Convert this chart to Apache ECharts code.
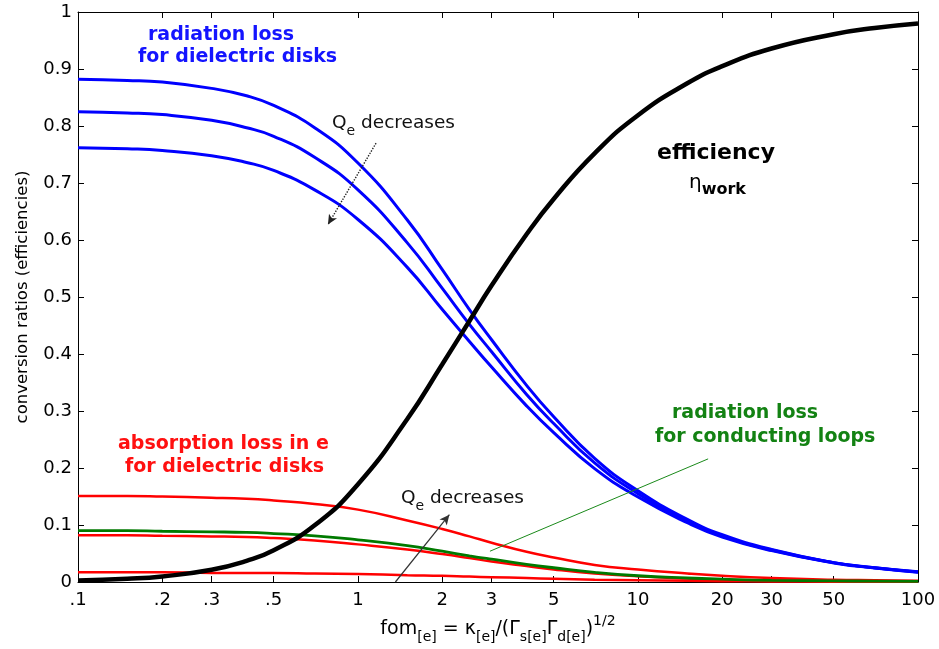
<!DOCTYPE html>
<html><head><meta charset="utf-8">
<script src="https://cdn.jsdelivr.net/npm/echarts@6/dist/echarts.min.js"></script>
<style>html,body{margin:0;padding:0;background:#fff}#c{width:939px;height:649px}</style>
</head><body><div id="c"></div>
<script>
// ---- data ----
const fom = [0.1,0.15,0.2,0.3,0.4,0.5,0.7,1,1.5,2,2.5,3,4,5,7,10,15,20,30,50,70,100];
const efficiency = [0.0025,0.0056,0.0098,0.0215,0.0371,0.0557,0.0994,0.1716,0.286,0.382,0.458,0.520,0.610,0.672,0.752,0.819,0.875,0.905,0.936,0.961,0.972,0.980];
const radDisk1 = [0.882,0.880,0.877,0.866,0.853,0.836,0.797,0.735,0.635,0.548,0.478,0.425,0.345,0.290,0.217,0.160,0.110,0.083,0.057,0.034,0.025,0.018];
const radDisk2 = [0.825,0.823,0.820,0.810,0.797,0.782,0.745,0.688,0.595,0.515,0.452,0.404,0.329,0.278,0.209,0.155,0.107,0.081,0.056,0.034,0.025,0.0175];
const radDisk3 = [0.762,0.760,0.757,0.748,0.736,0.722,0.688,0.636,0.552,0.478,0.422,0.377,0.309,0.262,0.199,0.149,0.104,0.079,0.055,0.0335,0.0245,0.0172];
const absDisk1 = [0.151,0.151,0.150,0.148,0.146,0.143,0.137,0.127,0.108,0.093,0.080,0.069,0.053,0.043,0.030,0.022,0.015,0.011,0.007,0.004,0.003,0.002];
const absDisk2 = [0.082,0.082,0.081,0.080,0.079,0.077,0.073,0.066,0.057,0.049,0.042,0.036,0.028,0.022,0.015,0.010,0.006,0.004,0.003,0.002,0.0015,0.001];
const absDisk3 = [0.017,0.017,0.017,0.016,0.016,0.016,0.015,0.014,0.012,0.011,0.0095,0.0085,0.007,0.0057,0.004,0.003,0.002,0.0015,0.001,0.0006,0.0004,0.0003];
const radLoop = [0.090,0.090,0.089,0.088,0.087,0.085,0.081,0.074,0.064,0.054,0.046,0.040,0.031,0.025,0.017,0.011,0.007,0.005,0.003,0.002,0.0015,0.001];
const xTickValues = [0.1,0.2,0.3,0.5,1,2,3,5,10,20,30,50,100];
const xTickLabels = ['.1','.2','.3','.5','1','2','3','5','10','20','30','50','100'];

const F = '"DejaVu Sans", sans-serif';
const pairs = arr => fom.map((f, i) => [f, arr[i]]);
const xFmt = v => { const i = xTickValues.findIndex(t => Math.abs(t - v) / t < 1e-6); return i >= 0 ? xTickLabels[i] : ''; };

function line(name, arr, color, width, extra) {
  return Object.assign({
    name, type: 'line', data: pairs(arr), showSymbol: false, smooth: 0.5,
    silent: true, lineStyle: { color, width }, itemStyle: { color }
  }, extra || {});
}

const chart = echarts.init(document.getElementById('c'), null, { renderer: 'canvas' });
const xCommon = {
  type: 'log', logBase: 10, min: 0.1, max: 100,
  axisLine: { show: true, onZero: false, lineStyle: { color: '#000', width: 1 } },
  axisTick: { show: true, inside: true, length: 6, customValues: xTickValues, lineStyle: { color: '#000', width: 1 } },
  minorTick: { show: false }, splitLine: { show: false }
};
const yCommon = {
  type: 'value', min: 0, max: 1, interval: 0.1,
  axisLine: { show: true, onZero: false, lineStyle: { color: '#000', width: 1 } },
  axisTick: { show: true, inside: true, length: 6, lineStyle: { color: '#000', width: 1 } },
  splitLine: { show: false }
};

const option = {
  animation: false,
  backgroundColor: '#fff',
  grid: { left: 78, right: 21, top: 12, bottom: 67, containLabel: false },
  xAxis: [
    Object.assign({}, xCommon, {
      position: 'bottom',
      axisLabel: { customValues: xTickValues, formatter: xFmt, color: '#000', fontFamily: F, fontSize: 18, margin: 9 },
      name: '{m|fom}{s|[e]}{m| = κ}{s|[e]}{m|/(Γ}{s|s[e]}{m|Γ}{s|d[e]}{m|)}{p|1/2}',
      nameLocation: 'middle', nameGap: 30,
      nameTextStyle: {
        color: '#000', fontFamily: F,
        rich: {
          m: { fontSize: 19, fontFamily: F, color: '#000', lineHeight: 30, verticalAlign: 'middle' },
          s: { fontSize: 14, fontFamily: F, color: '#000', lineHeight: 14, verticalAlign: 'bottom' },
          p: { fontSize: 14, fontFamily: F, color: '#000', lineHeight: 14, verticalAlign: 'top' }
        }
      }
    }),
    Object.assign({}, xCommon, { position: 'top', axisLabel: { show: false } })
  ],
  yAxis: [
    Object.assign({}, yCommon, {
      position: 'left',
      axisLabel: { color: '#000', fontFamily: F, fontSize: 18, margin: 6 },
      name: 'conversion ratios (efficiencies)', nameLocation: 'middle', nameGap: 47, nameRotate: 90,
      nameTextStyle: { color: '#000', fontFamily: F, fontSize: 16.5 }
    }),
    Object.assign({}, yCommon, { position: 'right', axisLabel: { show: false } })
  ],
  series: [
    line('absorption loss 3', absDisk3, '#ff0000', 2.5),
    line('absorption loss 2', absDisk2, '#ff0000', 2.5),
    line('absorption loss 1', absDisk1, '#ff0000', 2.5),
    line('radiation loss loops', radLoop, '#007a00', 2.8),
    line('radiation loss disks 3', radDisk3, '#0000ff', 3),
    line('radiation loss disks 2', radDisk2, '#0000ff', 3),
    line('radiation loss disks 1', radDisk1, '#0000ff', 3),
    line('efficiency', efficiency, '#000000', 4.5, {
      markLine: {
        silent: true, animation: false, label: { show: false }, symbolSize: [7, 10],
        data: [
          [{ coord: [1.16, 0.770], symbol: 'none', lineStyle: { type: 'dotted', color: '#222', width: 1.4 } }, { coord: [0.781, 0.627], symbol: 'arrow' }],
          [{ coord: [1.36, 0.0], symbol: 'none', lineStyle: { type: 'solid', color: '#333', width: 1.2 } }, { coord: [2.12, 0.118], symbol: 'arrow' }],
          [{ coord: [17.8, 0.216], symbol: 'none', lineStyle: { type: 'solid', color: '#1a8a1a', width: 1 } }, { coord: [2.96, 0.054], symbol: 'none' }]
        ]
      }
    })
  ],
  graphic: [
    { type: 'text', x: 148, y: 35, silent: true, style: { text: 'radiation loss', fill: '#1414ff', font: 'bold 19px ' + F, textVerticalAlign: 'middle' } },
    { type: 'text', x: 138, y: 57, silent: true, style: { text: 'for dielectric disks', fill: '#1414ff', font: 'bold 19px ' + F, textVerticalAlign: 'middle' } },
    { type: 'text', x: 118, y: 444, silent: true, style: { text: 'absorption loss in e', fill: '#ff1010', font: 'bold 19px ' + F, textVerticalAlign: 'middle' } },
    { type: 'text', x: 125, y: 467, silent: true, style: { text: 'for dielectric disks', fill: '#ff1010', font: 'bold 19px ' + F, textVerticalAlign: 'middle' } },
    { type: 'text', x: 672, y: 413, silent: true, style: { text: 'radiation loss', fill: '#138213', font: 'bold 19px ' + F, textVerticalAlign: 'middle' } },
    { type: 'text', x: 655, y: 437, silent: true, style: { text: 'for conducting loops', fill: '#138213', font: 'bold 19px ' + F, textVerticalAlign: 'middle' } },
    { type: 'text', x: 657, y: 153, silent: true, style: { text: 'efficiency', fill: '#000', font: 'bold 22px ' + F, textVerticalAlign: 'middle' } },
    { type: 'text', x: 689, y: 168, silent: true, style: {
        text: '{e|η}{w|work}', textVerticalAlign: 'top',
        rich: { e: { fontSize: 20, fontFamily: F, fill: '#000', lineHeight: 30, verticalAlign: 'middle' },
                w: { fontSize: 16, fontFamily: F, fontWeight: 'bold', fill: '#000', lineHeight: 16, verticalAlign: 'bottom' } } } },
    { type: 'text', x: 332, y: 108, silent: true, style: {
        text: '{q|Q}{s|e}{q| decreases}', textVerticalAlign: 'top',
        rich: { q: { fontSize: 18.5, fontFamily: F, fill: '#111', lineHeight: 30, verticalAlign: 'middle' },
                s: { fontSize: 14, fontFamily: F, fill: '#111', lineHeight: 14, verticalAlign: 'bottom' } } } },
    { type: 'text', x: 401, y: 483, silent: true, style: {
        text: '{q|Q}{s|e}{q| decreases}', textVerticalAlign: 'top',
        rich: { q: { fontSize: 18.5, fontFamily: F, fill: '#111', lineHeight: 30, verticalAlign: 'middle' },
                s: { fontSize: 14, fontFamily: F, fill: '#111', lineHeight: 14, verticalAlign: 'bottom' } } } }
  ]
};
chart.setOption(option);
</script>
</body></html>
